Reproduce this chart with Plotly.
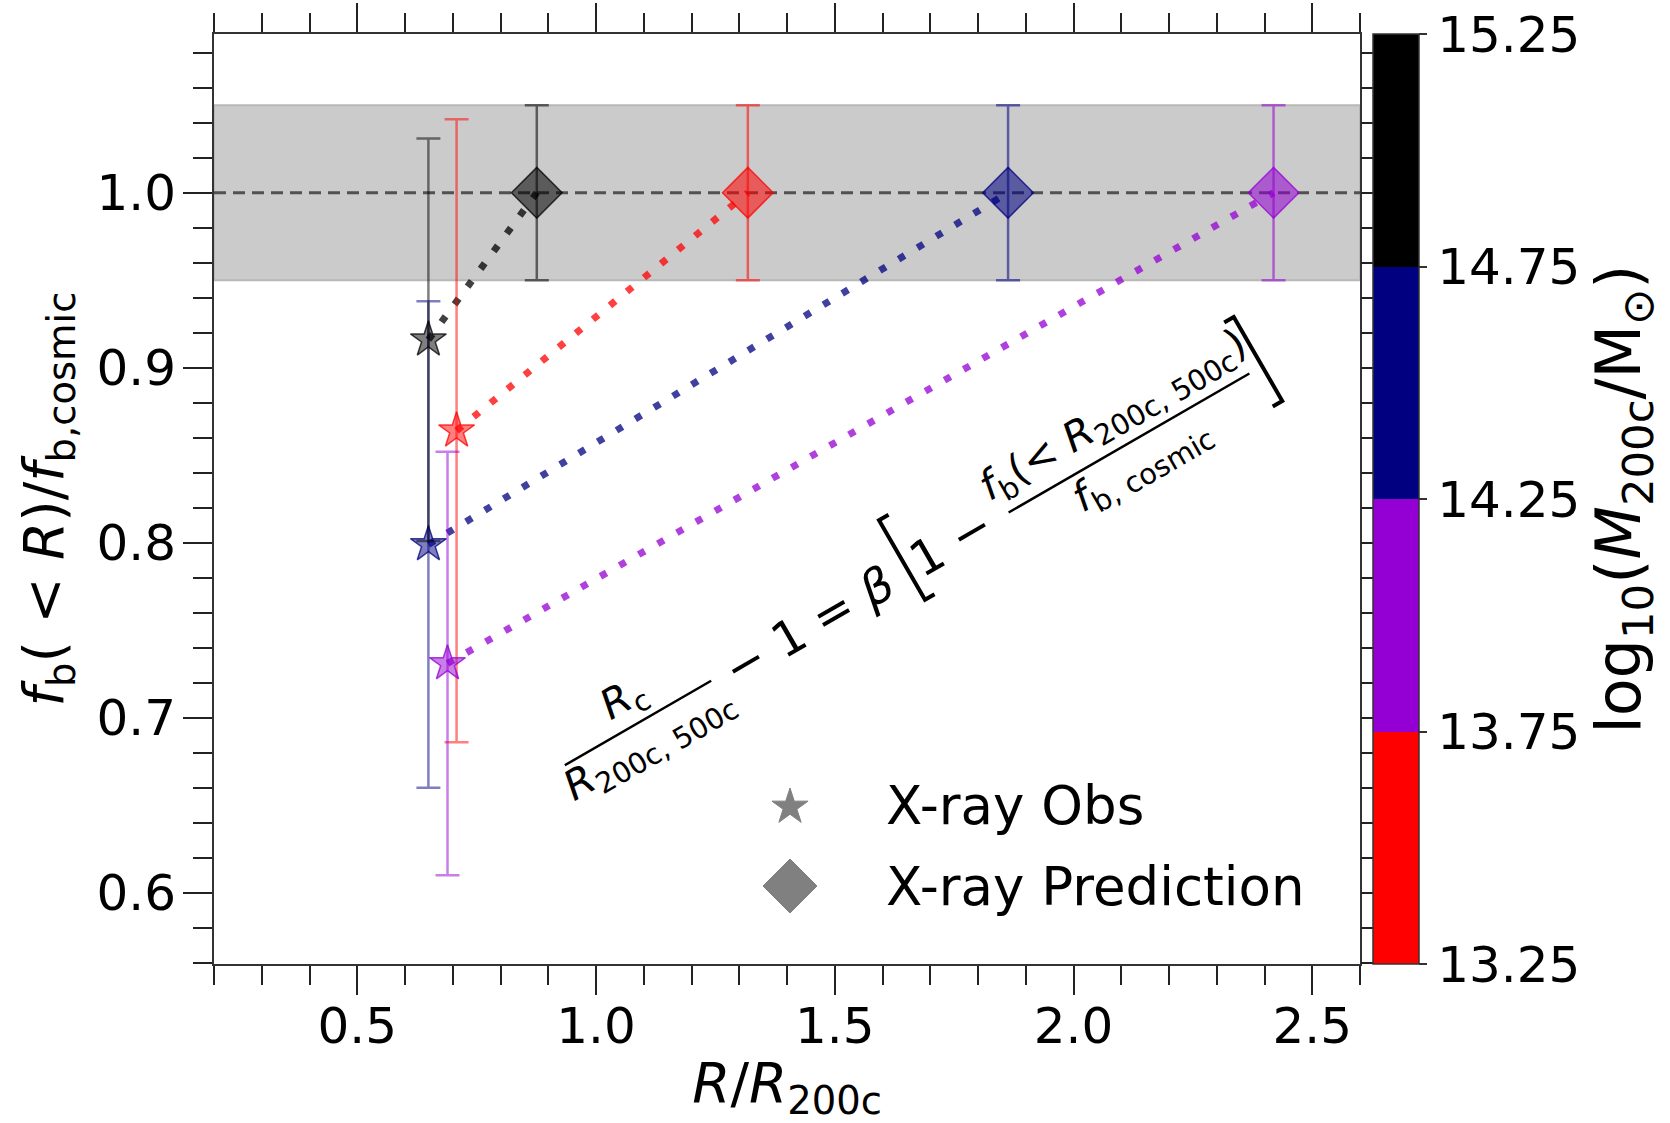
import math
import plotly.graph_objects as go

# ---------------- data ----------------
bin_names = ["13.25-13.75", "13.75-14.25", "14.25-14.75", "14.75-15.25"]
bin_mass = [13.5, 14.0, 14.5, 15.0]
bin_rgb = [(255, 0, 0), (148, 0, 211), (0, 0, 128), (0, 0, 0)]

# X-ray Obs (stars)
obs_x = [0.708, 0.689, 0.649, 0.649]
obs_y = [0.864, 0.731, 0.799, 0.916]
obs_err = [0.178, 0.121, 0.139, 0.115]

# X-ray Prediction (diamonds)
pred_x = [1.318, 2.419, 1.863, 0.876]
pred_y = [1.0, 1.0, 1.0, 1.0]
pred_err = [0.05, 0.05, 0.05, 0.05]

band_lo, band_hi = 0.95, 1.05
cosmic_line = 1.0

cbar_edges = [13.25, 13.75, 14.25, 14.75, 15.25]
cbar_ticks = ["13.25", "13.75", "14.25", "14.75", "15.25"]

x_range = [0.2, 2.6]
y_range = [0.5593, 1.0907]

# ---------------- layout geometry (pixels) ----------------
W_PX, H_PX = 1670, 1123
PL, PR, PT, PB = 214, 1360, 34, 964
PW, PH = PR - PL, PB - PT
FONT = "DejaVu Sans"


def rgba(c, a):
    return f"rgba({c[0]},{c[1]},{c[2]},{a})"


def pp(px, py):
    """page pixel -> paper coords"""
    return (px - PL) / PW, (PB - py) / PH


fig = go.Figure()

# dotted connectors
for i in range(4):
    fig.add_trace(go.Scatter(
        x=[obs_x[i], pred_x[i]], y=[obs_y[i], pred_y[i]], mode="lines",
        line=dict(color=rgba(bin_rgb[i], 0.75), width=7, dash="7px,15px"),
        showlegend=False, hoverinfo="skip"))

# stars
for i in range(4):
    fig.add_trace(go.Scatter(
        x=[obs_x[i]], y=[obs_y[i]], mode="markers", name="X-ray Obs",
        marker=dict(symbol="star", size=27, color=rgba(bin_rgb[i], 0.5),
                    line=dict(color=rgba(bin_rgb[i], 0.75), width=1.5)),
        error_y=dict(type="data", array=[obs_err[i]], visible=True,
                     color=rgba(bin_rgb[i], 0.5), thickness=2.5, width=12),
        showlegend=False))

# diamonds
for i in range(4):
    fig.add_trace(go.Scatter(
        x=[pred_x[i]], y=[pred_y[i]], mode="markers", name="X-ray Prediction",
        marker=dict(symbol="diamond", size=39, color=rgba(bin_rgb[i], 0.55),
                    line=dict(color=rgba(bin_rgb[i], 0.75), width=1.5)),
        error_y=dict(type="data", array=[pred_err[i]], visible=True,
                     color=rgba(bin_rgb[i], 0.55), thickness=2.5, width=12),
        showlegend=False))

# colorbar carrier (invisible), on overlay axis
cscale = []
n = len(bin_rgb)
for i, c in enumerate(bin_rgb):
    cscale.append([i / n, rgba(c, 1)])
    cscale.append([(i + 1) / n, rgba(c, 1)])
fig.add_trace(go.Scatter(
    x=obs_x, y=obs_y, yaxis="y2", mode="markers", hoverinfo="skip",
    showlegend=False,
    marker=dict(color=bin_mass, colorscale=cscale, cmin=cbar_edges[0],
                cmax=cbar_edges[-1], opacity=0, size=1, showscale=True,
                colorbar=dict(
                    x=(1373 - PL) / PW, xanchor="left", xpad=0, ypad=0,
                    y=0.5, yanchor="middle", len=1, lenmode="fraction",
                    thickness=46, thicknessmode="pixels",
                    outlinewidth=1.5, outlinecolor="#333",
                    tickvals=cbar_edges, ticktext=cbar_ticks,
                    ticks="outside", ticklen=8, tickwidth=1.5, tickcolor="#333",
                    tickfont=dict(family=FONT, size=50, color="black"),
                    title=dict(text="log<sub>10</sub>(<i>M</i><sub>200c</sub>/M<sub>⊙</sub>)",
                               side="right",
                               font=dict(family=FONT, size=62, color="black"))))))

shapes = []
# band
shapes.append(dict(type="rect", xref="paper", yref="y", x0=0, x1=1,
                   y0=band_lo, y1=band_hi, fillcolor="#cbcbcb",
                   line=dict(color="#b8b8b8", width=2), layer="below"))
shapes.append(dict(type="line", xref="paper", yref="y", x0=0, x1=1,
                   y0=cosmic_line, y1=cosmic_line,
                   line=dict(color="rgba(60,60,60,0.85)", width=3, dash="12px,7px"),
                   layer="below"))

# equation geometry
ang = math.radians(30)
u = (math.cos(ang), -math.sin(ang))
nv = (-math.sin(ang), -math.cos(ang))


def seg_path(points):
    s = ""
    for k, (px, py) in enumerate(points):
        X, Y = pp(px, py)
        s += ("M" if k == 0 else "L") + f"{X:.5f},{Y:.5f} "
    return s


def bar(cx, cy, L):
    p0 = (cx - u[0] * L / 2, cy - u[1] * L / 2)
    p1 = (cx + u[0] * L / 2, cy + u[1] * L / 2)
    return dict(type="path", xref="paper", yref="paper", path=seg_path([p0, p1]),
                line=dict(color="black", width=2.5), layer="above")


def bracket(cx, cy, h, w, direction):
    top = (cx + nv[0] * h / 2, cy + nv[1] * h / 2)
    bot = (cx - nv[0] * h / 2, cy - nv[1] * h / 2)
    pts = [(top[0] + direction * w * u[0], top[1] + direction * w * u[1]), top, bot,
           (bot[0] + direction * w * u[0], bot[1] + direction * w * u[1])]
    return dict(type="path", xref="paper", yref="paper", path=seg_path(pts),
                line=dict(color="black", width=4), layer="above")


shapes.append(bar(638, 723, 169))
shapes.append(bar(1129, 443, 278))
shapes.append(bracket(902, 560, 92, 11, 1))
shapes.append(bracket(1258, 359, 97, 11, -1))


# legend handles
def star_path(cx, cy, R, r):
    pts = []
    for k in range(10):
        a = math.radians(-90 + 36 * k)
        rad = R if k % 2 == 0 else r
        pts.append((cx + rad * math.cos(a), cy + rad * math.sin(a)))
    return seg_path(pts) + "Z"


shapes.append(dict(type="path", xref="paper", yref="paper",
                   path=star_path(790, 807, 19, 19 * 0.382),
                   fillcolor="#808080", line=dict(color="#808080", width=1), layer="above"))
shapes.append(dict(type="path", xref="paper", yref="paper",
                   path=seg_path([(790, 859), (817, 886), (790, 913), (763, 886)]) + "Z",
                   fillcolor="#808080", line=dict(color="#808080", width=1), layer="above"))

annotations = []
eq_parts = [
    ("<i>R</i><sub>c</sub>", 624, 700, 41),
    ("<i>R</i><sub>200c, 500c</sub>", 650, 745, 41),
    ("− 1 = <i>β</i>", 808, 626, 48),
    ("1 −", 951, 542, 48),
    ("<i>f</i><sub>b</sub>(&lt; <i>R</i><sub>200c, 500c</sub>)", 1114, 417, 41),
    ("<i>f</i><sub>b, cosmic</sub>", 1142, 466, 41),
]
for txt, px, py, fs in eq_parts:
    X, Y = pp(px, py)
    annotations.append(dict(text=txt, x=X, y=Y, xref="paper", yref="paper",
                            xanchor="center", yanchor="middle", showarrow=False,
                            textangle=-30, font=dict(family=FONT, size=fs, color="black")))

for txt, py in [("X-ray Obs", 805), ("X-ray Prediction", 886)]:
    X, Y = pp(884, py)
    annotations.append(dict(text=txt, x=X, y=Y, xref="paper", yref="paper",
                            xanchor="left", yanchor="middle", showarrow=False,
                            font=dict(family=FONT, size=53, color="black")))

axis_common = dict(showgrid=False, zeroline=False, showline=True, linewidth=2,
                   linecolor="#333", ticks="outside", tickwidth=2, tickcolor="#222",
                   tickfont=dict(family=FONT, size=50, color="black"))

fig.update_layout(
    width=W_PX, height=H_PX, autosize=False,
    margin=dict(l=PL, r=W_PX - PR, t=PT, b=H_PX - PB, autoexpand=False),
    paper_bgcolor="white", plot_bgcolor="white",
    font=dict(family=FONT, color="black"),
    showlegend=False,
    xaxis=dict(range=x_range, dtick=0.5, tick0=0, tickformat=".1f", ticklen=29,
               mirror="ticks", ticklabelstandoff=-12,
               minor=dict(dtick=0.1, tick0=0, ticklen=19, tickwidth=2, ticks="outside",
                          tickcolor="#222"),
               title=dict(text="<i>R</i>/<i>R</i><sub>200c</sub>", standoff=5,
                          font=dict(family=FONT, size=55, color="black")),
               **axis_common),
    yaxis=dict(range=y_range, dtick=0.1, tick0=0, tickformat=".1f", ticklen=29,
               mirror=True, ticklabelstandoff=-3,
               minor=dict(dtick=0.02, tick0=0, ticklen=19, tickwidth=2, ticks="outside",
                          tickcolor="#222"),
               title=dict(text="<i>f</i><sub>b</sub>( &lt; <i>R</i>)/<i>f</i><sub>b,cosmic</sub>",
                          standoff=15, font=dict(family=FONT, size=55, color="black")),
               **axis_common),
    yaxis2=dict(range=y_range, overlaying="y", side="right", showgrid=False,
                zeroline=False, showline=False, showticklabels=False,
                ticks="outside", ticklen=12, tickwidth=2, tickcolor="#222",
                dtick=0.1, tick0=0,
                minor=dict(dtick=0.02, tick0=0, ticklen=12, tickwidth=2,
                           ticks="outside", tickcolor="#222")),
    shapes=shapes,
    annotations=annotations,
)

fig.write_html("out.html", config={"displayModeBar": False},
               post_script="document.body.style.margin='0px';document.body.style.padding='0px';")
